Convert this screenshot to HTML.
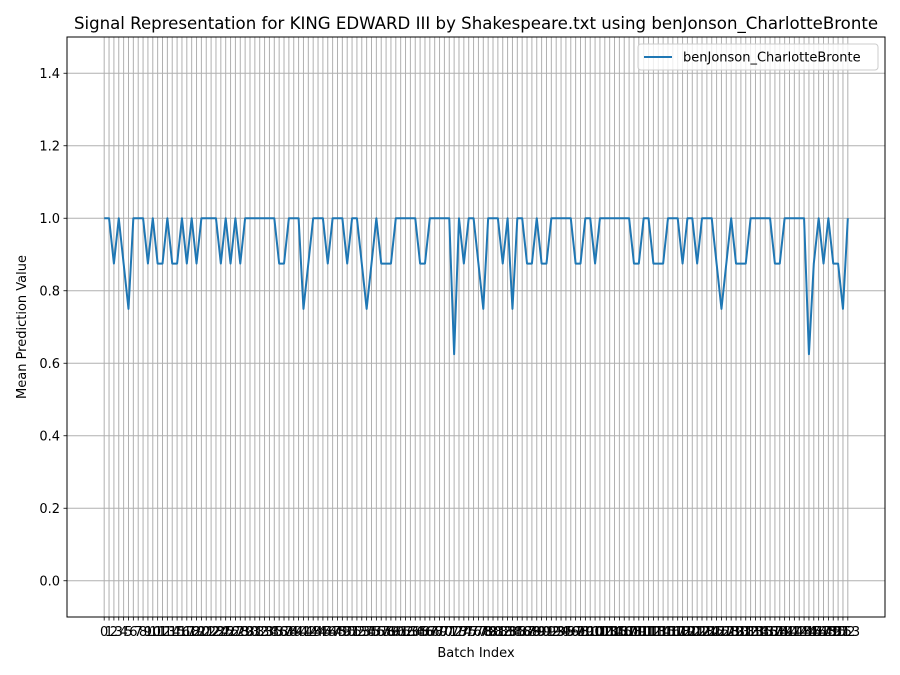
<!DOCTYPE html>
<html><head><meta charset="utf-8"><style>
body{margin:0;background:#fff}
svg{display:block;font-family:"DejaVu Sans","Liberation Sans",sans-serif}
</style></head><body>
<svg id="chart" width="900" height="675"></svg>
<script>
const values=[1,1,.875,1,.875,.75,1,1,1,.875,1,.875,.875,1,.875,.875,1,.875,1,.875,1,1,1,1,.875,1,.875,1,.875,1,1,1,1,1,1,1,.875,.875,1,1,1,.75,.875,1,1,1,.875,1,1,1,.875,1,1,.875,.75,.875,1,.875,.875,.875,1,1,1,1,1,.875,.875,1,1,1,1,1,.625,1,.875,1,1,.875,.75,1,1,1,.875,1,.75,1,1,.875,.875,1,.875,.875,1,1,1,1,1,.875,.875,1,1,.875,1,1,1,1,1,1,1,.875,.875,1,1,.875,.875,.875,1,1,1,.875,1,1,.875,1,1,1,.875,.75,.875,1,.875,.875,.875,1,1,1,1,1,.875,.875,1,1,1,1,1,.625,.875,1,.875,1,.875,.875,.75,1];
const yTicks=[0,0.2,0.4,0.6,0.8,1.0,1.2,1.4];
const seriesName="benJonson_CharlotteBronte";
const NS="http://www.w3.org/2000/svg";
const svg=document.getElementById('chart');
const L=67,R=885,T=37,B=617;
const n=values.length;
const xmin=-0.05*(n-1),xmax=(n-1)*1.05;
const X=i=>L+(i-xmin)/(xmax-xmin)*(R-L);
const Y=v=>B-(v+0.1)/1.6*(B-T);
function mk(tag,attrs,parent){const e=document.createElementNS(NS,tag);for(const k in attrs)e.setAttribute(k,attrs[k]);(parent||svg).appendChild(e);return e;}
const grid=mk('g',{});


const xt=mk('g',{});


for(let i=0;i<n;i++){
  const x=X(i);
  mk('line',{x1:x,x2:x,y1:T,y2:B,stroke:'#b0b0b0','stroke-width':1},grid);
  mk('line',{x1:x,x2:x,y1:B,y2:B+3.5,stroke:'#000','stroke-width':0.8},xt);
  const t=mk('text',{x:x,y:B+19,'font-size':13,'text-anchor':'middle'},xt);
  t.textContent=i;
  
  
}
const yt=mk('g',{});


yTicks.forEach(v=>{
  const y=Y(v);
  mk('line',{x1:L,x2:R,y1:y,y2:y,stroke:'#b0b0b0','stroke-width':1},grid);
  mk('line',{x1:L-3.5,x2:L,y1:y,y2:y,stroke:'#000','stroke-width':0.8},yt);
  const t=mk('text',{x:L-7,y:y+4.5,'font-size':13,'text-anchor':'end'},yt);
  t.textContent=v.toFixed(1);
  
  
});
const line=mk('polyline',{points:values.map((v,i)=>X(i)+','+Y(v)).join(' '),fill:'none',stroke:'#1f77b4','stroke-width':2,'stroke-linejoin':'round'});


const frame=mk('rect',{x:L,y:T,width:R-L,height:B-T,fill:'none',stroke:'#000','stroke-width':1});


const title=mk('text',{x:(L+R)/2,y:T-8,'font-size':16.6,'text-anchor':'middle'});
title.textContent='Signal Representation for KING EDWARD III by Shakespeare.txt using benJonson_CharlotteBronte';


const xl=mk('text',{x:(L+R)/2,y:657,'font-size':13,'text-anchor':'middle'});
xl.textContent='Batch Index';


const yl=mk('text',{x:26,y:(T+B)/2,'font-size':13,'text-anchor':'middle',transform:'rotate(-90 26 '+((T+B)/2)+')'});
yl.textContent='Mean Prediction Value';


const lg=mk('g',{});


mk('rect',{x:638,y:44,width:240,height:26,fill:'#fff','fill-opacity':0.8,stroke:'#ccc',rx:3},lg);
const ll=mk('line',{x1:644,x2:672,y1:57,y2:57,stroke:'#1f77b4','stroke-width':2},lg);


const lt=mk('text',{x:683,y:61.5,'font-size':13},lg);
lt.textContent=seriesName;


</script>
</body></html>
